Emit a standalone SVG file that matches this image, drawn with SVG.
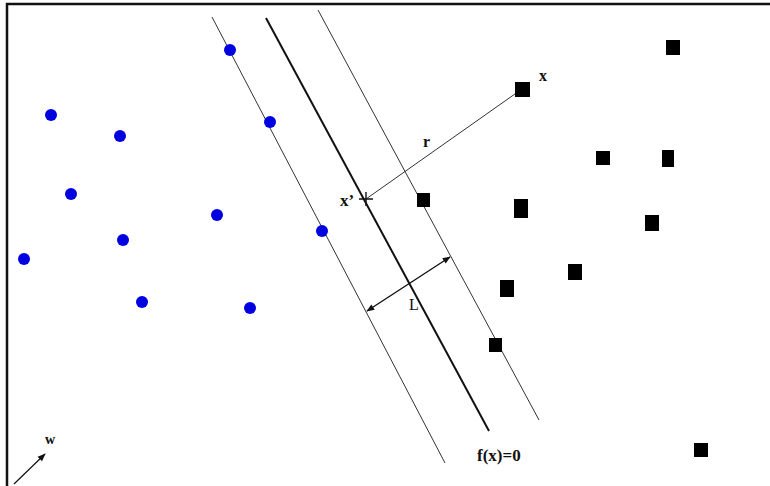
<svg xmlns="http://www.w3.org/2000/svg" width="770" height="486" viewBox="0 0 770 486">
<style>
.dot{fill:#0000e0}
.sq{fill:#000}
.ln{stroke:#333;stroke-width:1;fill:none}
.lbl{font-family:"Liberation Serif",serif;font-weight:bold;fill:#111}
</style>
<defs>
<marker id="ah" viewBox="0 0 10 10" refX="9" refY="5" markerWidth="10" markerHeight="8" orient="auto-start-reverse" markerUnits="userSpaceOnUse">
<path d="M0,1 L10,5 L0,9 z" fill="#111"/>
</marker>
</defs>
<rect width="770" height="486" fill="#fff"/>
<path d="M7,486 V4 H770" stroke="#111" stroke-width="2.5" fill="none"/>
<g id="connectors">
<line class="ln" x1="212" y1="17" x2="445" y2="463"/>
<line x1="266" y1="18" x2="489" y2="431" stroke="#111" stroke-width="2"/>
<line class="ln" x1="318" y1="10" x2="539" y2="420"/>
<line class="ln" x1="366" y1="199" x2="522" y2="89"/>
<line x1="367" y1="311" x2="450" y2="257" stroke="#111" stroke-width="1.4" marker-start="url(#ah)" marker-end="url(#ah)"/>
<line x1="14" y1="484" x2="45" y2="454" stroke="#111" stroke-width="1.2" marker-end="url(#ah)"/>
<path d="M359,199 H373 M366,192 V206" stroke="#111" stroke-width="1.4"/>
</g>
<g id="labels">
<text class="lbl" x="539" y="81" font-size="16">x</text>
<text class="lbl" x="423" y="147" font-size="16">r</text>
<text class="lbl" x="340" y="206" font-size="17">x’</text>
<text x="409" y="310" font-family="Liberation Serif,serif" font-size="16" fill="#111">L</text>
<text class="lbl" x="45" y="444" font-size="14">w</text>
<text class="lbl" x="477" y="461" font-size="17">f(x)=0</text>
</g>
<g id="class-circles">
<circle class="dot" cx="51" cy="115" r="6"/>
<circle class="dot" cx="120" cy="136" r="6"/>
<circle class="dot" cx="230" cy="50" r="6"/>
<circle class="dot" cx="270" cy="122" r="6"/>
<circle class="dot" cx="71" cy="194" r="6"/>
<circle class="dot" cx="217" cy="215" r="6"/>
<circle class="dot" cx="123" cy="240" r="6"/>
<circle class="dot" cx="322" cy="231" r="6"/>
<circle class="dot" cx="24" cy="259" r="6"/>
<circle class="dot" cx="142" cy="302" r="6"/>
<circle class="dot" cx="250" cy="308" r="6"/>
</g>
<g id="class-squares">
<rect class="sq" x="666" y="40" width="14" height="15"/>
<rect class="sq" x="515" y="82" width="15" height="15"/>
<rect class="sq" x="596" y="151" width="14" height="14"/>
<rect class="sq" x="662" y="150" width="12" height="17"/>
<rect class="sq" x="417" y="193" width="13" height="14"/>
<rect class="sq" x="514" y="199" width="14" height="19"/>
<rect class="sq" x="645" y="215" width="14" height="16"/>
<rect class="sq" x="568" y="264" width="14" height="16"/>
<rect class="sq" x="500" y="280" width="14" height="17"/>
<rect class="sq" x="489" y="338" width="13" height="14"/>
<rect class="sq" x="694" y="443" width="14" height="14"/>
</g>
</svg>
